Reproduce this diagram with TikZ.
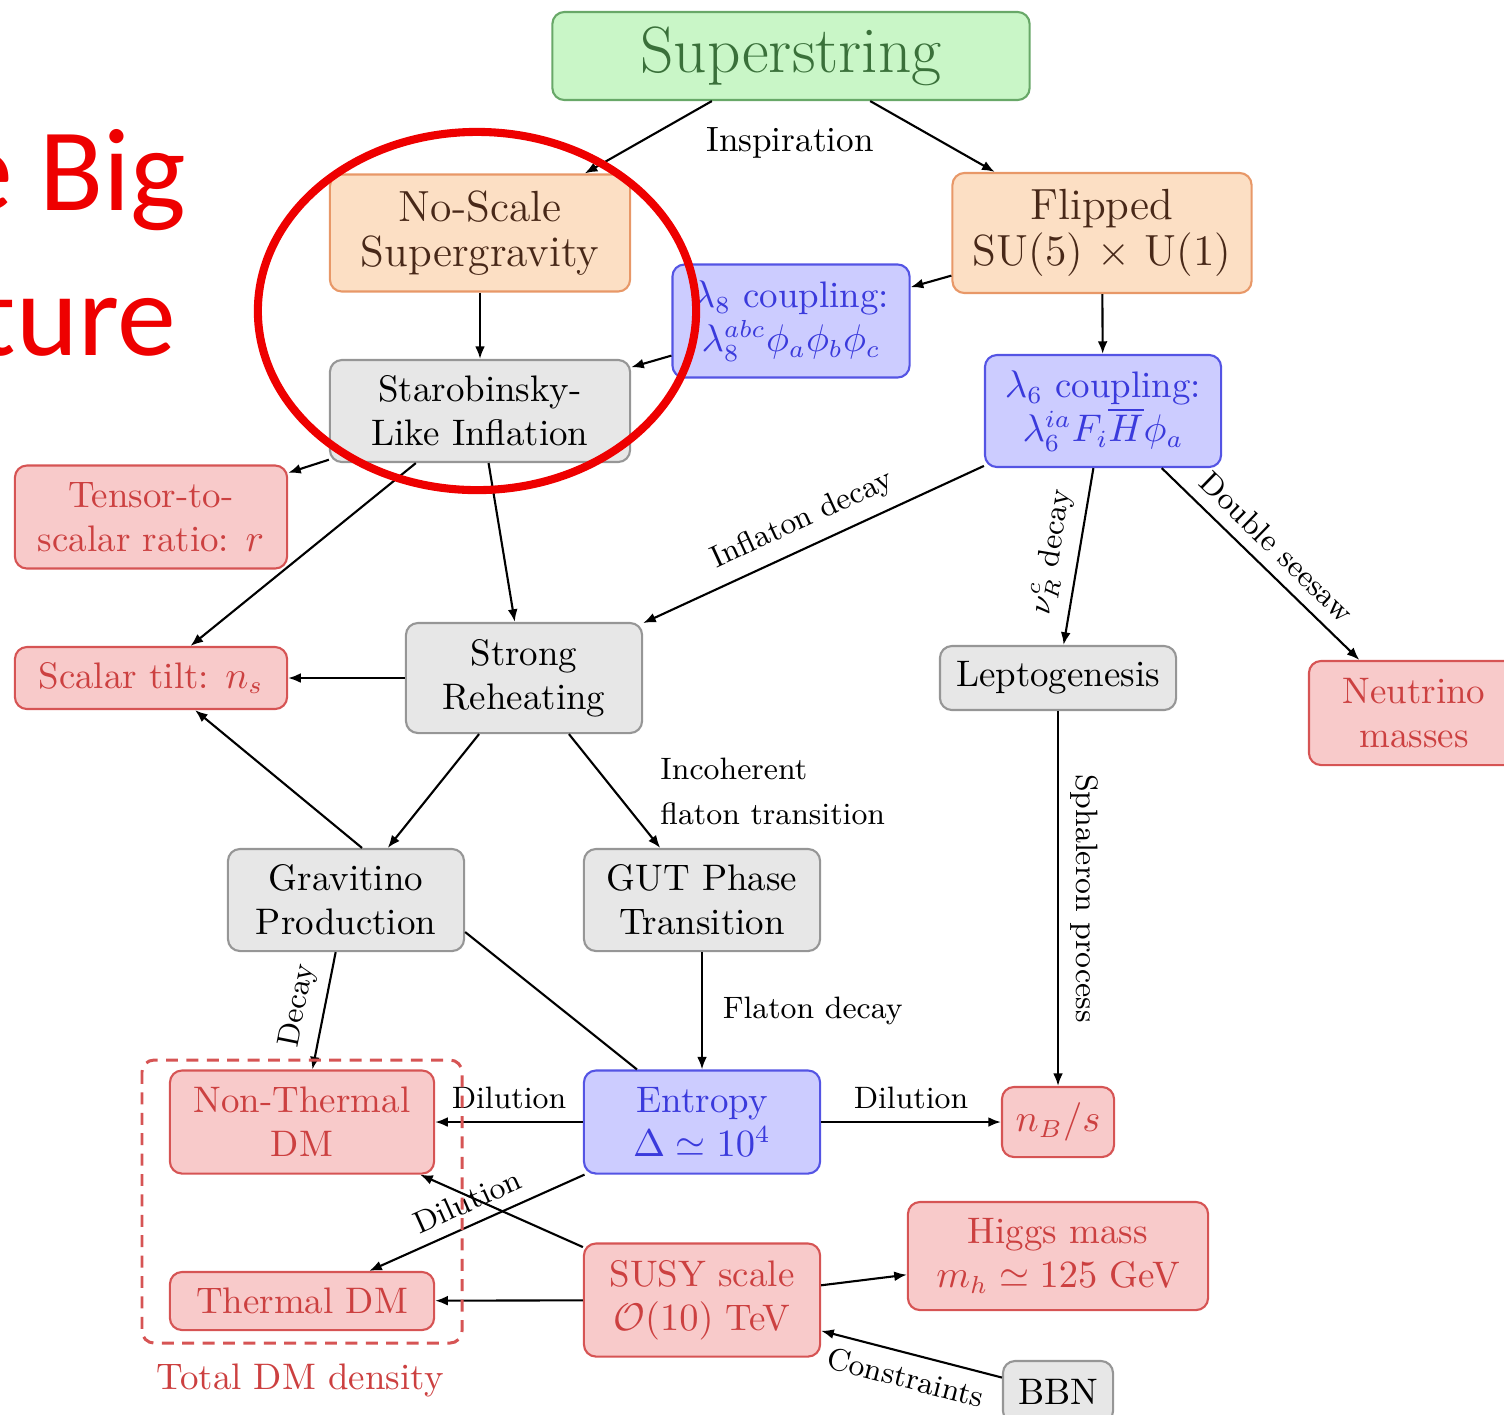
\documentclass[tikz,border=0pt]{standalone}
\usepackage{amsmath}
\usepackage{amssymb}
\usepackage{fontspec}
\newfontfamily\slidefont{Carlito}
\usepackage{xcolor}
\definecolor{nsgreen}{RGB}{201,246,199}
\definecolor{nsgreenline}{RGB}{104,168,104}
\definecolor{nsgreentext}{RGB}{58,112,58}
\definecolor{nsorange}{RGB}{252,223,196}
\definecolor{nsorangeline}{RGB}{232,152,104}
\definecolor{nsorangetext}{RGB}{72,40,24}
\definecolor{nsblue}{RGB}{204,204,255}
\definecolor{nsblueline}{RGB}{84,84,228}
\definecolor{nsbluetext}{RGB}{58,58,220}
\definecolor{nsgray}{RGB}{231,231,231}
\definecolor{nsgrayline}{RGB}{150,150,150}
\definecolor{nsred}{RGB}{248,202,202}
\definecolor{nsredline}{RGB}{214,84,84}
\definecolor{nsredtext}{RGB}{204,64,64}
\definecolor{slidered}{RGB}{238,0,0}
\usepackage{tikz}
\usetikzlibrary{arrows.meta}

\begin{document}
\begin{tikzpicture}[
  x=0.01cm, y=-0.01cm,
  box/.style={draw, rounded corners=0.12cm, line width=0.6pt, align=center, inner sep=0pt,
    font=\fontsize{10.5}{12.5}\selectfont},
  greenbox/.style={box, fill=nsgreen, draw=nsgreenline, text=nsgreentext},
  orangebox/.style={box, fill=nsorange, draw=nsorangeline, text=nsorangetext,
    font=\fontsize{12.4}{13}\selectfont},
  bluebox/.style={box, fill=nsblue, draw=nsblueline, text=nsbluetext},
  graybox/.style={box, fill=nsgray, draw=nsgrayline, text=black},
  redbox/.style={box, fill=nsred, draw=nsredline, text=nsredtext},
  arr/.style={-{Latex[length=3.6pt,width=2.8pt]}, line width=0.6pt},
  lbl/.style={font=\fontsize{8.8}{12.8}\selectfont, text=black},
  titleword/.style={text=slidered, inner sep=0pt, font=\slidefont\fontsize{33.5}{40}\selectfont}
]
  \useasboundingbox (0,0) rectangle (1504,1414);

  \node[greenbox, font=\fontsize{18.6}{21}\selectfont, minimum width=4.77cm, minimum height=0.88cm] (sstr) at (791,56) {Superstring};
  \node[orangebox, minimum width=3cm, minimum height=1.17cm] (nosc) at (480,233) {No-Scale\\Supergravity};
  \node[orangebox, minimum width=2.99cm, minimum height=1.2cm] (flip) at (1102,233) {Flipped\\SU(5) $\times$ U(1)};
  \node[bluebox, minimum width=2.37cm, minimum height=1.13cm] (lam8) at (791,321) {$\lambda_8$ coupling:\\$\lambda_8^{abc}\phi_a\phi_b\phi_c$};
  \node[graybox, minimum width=3cm, minimum height=1.02cm] (staro) at (480,411) {Starobinsky-\\Like Inflation};
  \node[bluebox, minimum width=2.36cm, minimum height=1.12cm] (lam6) at (1103,411) {$\lambda_6$ coupling:\\$\lambda_6^{ia}F_i\overline{H}\phi_a$};
  \node[redbox, minimum width=2.72cm, minimum height=1.03cm] (tens) at (151,517) {Tensor-to-\\scalar ratio: $r$};
  \node[redbox, minimum width=2.72cm, minimum height=0.62cm] (tilt) at (151,678) {Scalar tilt: $n_s$};
  \node[graybox, minimum width=2.36cm, minimum height=1.1cm] (reh) at (524,678) {Strong\\Reheating};
  \node[graybox, minimum width=2.36cm, minimum height=0.64cm] (lept) at (1058,678) {Leptogenesis};
  \node[redbox, minimum width=2.1cm, minimum height=1.04cm] (neut) at (1414,713) {Neutrino\\masses};
  \node[graybox, minimum width=2.36cm, minimum height=1.02cm] (grav) at (346,900) {Gravitino\\Production};
  \node[graybox, minimum width=2.36cm, minimum height=1.02cm] (gut) at (702,900) {GUT Phase\\Transition};
  \node[redbox, minimum width=2.64cm, minimum height=1.03cm] (ntdm) at (302,1122) {Non-Thermal\\DM};
  \node[bluebox, minimum width=2.36cm, minimum height=1.03cm] (entr) at (702,1122) {Entropy\\$\Delta\simeq10^4$};
  \node[redbox, minimum width=1.12cm, minimum height=0.7cm] (nbs) at (1058,1122) {$n_B/s$};
  \node[redbox, minimum width=3cm, minimum height=1.08cm] (higgs) at (1058,1256) {Higgs mass\\$m_h\simeq125$ GeV};
  \node[redbox, minimum width=2.64cm, minimum height=0.58cm] (tdm) at (302,1301) {Thermal DM};
  \node[redbox, minimum width=2.36cm, minimum height=1.13cm] (susy) at (702,1300) {SUSY scale\\$\mathcal{O}(10)$ TeV};
  \node[graybox, minimum width=1.1cm, minimum height=0.62cm] (bbn) at (1058,1392) {BBN};

  \draw[arr] (sstr) -- (nosc);
  \draw[arr] (sstr) -- (flip);
  \node[lbl, font=\fontsize{10}{12}\selectfont] (insp) at (790,143) {Inspiration};
  \draw[arr] (nosc) -- (staro);
  \draw[arr] (flip) -- (lam8);
  \draw[arr] (lam8) -- (staro);
  \draw[arr] (flip) -- (lam6);
  \draw[arr] (staro) -- (tens);
  \draw[arr] (staro) -- (tilt);
  \draw[arr] (staro) -- (reh);
  \draw[arr] (lam6) -- node[lbl, sloped, above] (infl) {Inflaton decay} (reh);
  \draw[arr] (lam6) -- node[lbl, sloped, above] (nudec) {$\nu_R^c$ decay} (lept);
  \draw[arr] (lam6) -- node[lbl, sloped, above] (seesaw) {Double seesaw} (neut);
  \draw[arr] (reh) -- (tilt);
  \draw[arr] (reh) -- (grav);
  \draw[arr] (reh) -- node[lbl, right, align=left, xshift=0.33cm] (incoh) {Incoherent\\flaton transition} (gut);
  \draw[arr] ([xshift=0.16cm]grav.north) -- ([xshift=0.44cm]tilt.south);
  \draw[arr] (grav) -- node[lbl, sloped, above] (gdec) {Decay} (ntdm);
  \draw[line width=0.6pt] ([yshift=-0.32cm]grav.east) -- ([xshift=-0.65cm]entr.north);
  \draw[arr] (gut) -- node[lbl, right, xshift=0.08cm] (fldec) {Flaton decay} (entr);
  \draw[arr] (entr) -- node[lbl, above] (dil1) {Dilution} (ntdm);
  \draw[arr] (entr) -- node[lbl, above] (dil2) {Dilution} (nbs);
  \draw[arr] (entr) -- node[lbl, sloped, above] (dil3) {Dilution} (tdm);
  \draw[arr] (susy) -- (ntdm);
  \draw[arr] (susy) -- (tdm);
  \draw[arr] (susy) -- (higgs);
  \draw[arr] (bbn) -- node[lbl, sloped, below] (constr) {Constraints} (susy);
  \draw[arr] (lept) -- node[lbl, rotate=-90, anchor=south] (sphal) {Sphaleron process} (nbs);

  \draw[nsredline, line width=0.85pt, dash pattern=on 3.4pt off 2.4pt, rounded corners=0.12cm] (142,1060) rectangle (462,1343);
  \node[text=nsredtext, font=\fontsize{10.5}{12.5}\selectfont] (totdm) at (300,1380) {Total DM density};

  \node[titleword, anchor=base east] (bigword) at (187,210) {e Big};
  \node[titleword, anchor=base east] (tureword) at (177,355) {ture};

  \draw[slidered, line width=2.3pt] (477,311) ellipse [x radius=2.19cm, y radius=1.79cm];
\end{tikzpicture}
\end{document}
